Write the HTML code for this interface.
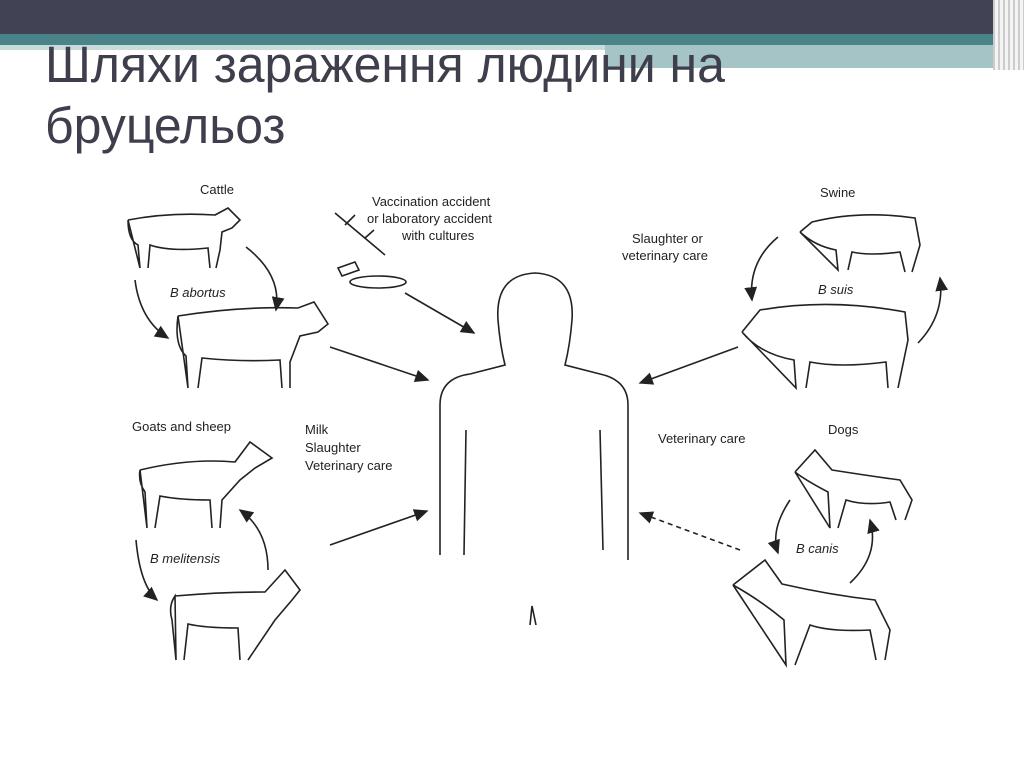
<!DOCTYPE html>
<html><head><meta charset="utf-8"><style>
body{margin:0;width:1024px;height:768px;background:#fff;overflow:hidden;position:relative;font-family:"Liberation Sans",sans-serif}
.t{position:absolute;left:45px;font-size:51px;color:#3e3e4c;transform:scaleX(0.98);transform-origin:left top;white-space:nowrap;line-height:60px}
</style></head><body>
<div style="position:absolute;left:0;top:0;width:1024px;height:34px;background:#414254"></div>
<div style="position:absolute;left:0;top:34px;width:1010px;height:11px;background:#4a8488"></div>
<div style="position:absolute;left:0;top:45px;width:605px;height:5px;background:#c9dcdc"></div>
<div style="position:absolute;left:605px;top:45px;width:405px;height:23px;background:#a5c4c5"></div>
<div style="position:absolute;left:993px;top:0;width:31px;height:70px;background:repeating-linear-gradient(90deg,#ccc 0 2px,#f4f4f4 2px 5px)"></div>
<div class="t" style="top:35px">Шляхи зараження людини на</div>
<div class="t" style="top:96px">бруцельоз</div>
<svg width="1024" height="768" style="position:absolute;left:0;top:0" font-family="Liberation Sans" font-size="13" fill="none" stroke="#222" stroke-width="1.6">
<defs><marker id="a" markerWidth="10" markerHeight="10" refX="8" refY="5" orient="auto"><path d="M0,1 L9,5 L0,9 z" fill="#222" stroke="none"/></marker></defs>
<g fill="#222" stroke="none">
<text x="200" y="194">Cattle</text>
<text x="372" y="206">Vaccination accident</text>
<text x="367" y="223">or laboratory accident</text>
<text x="402" y="240">with cultures</text>
<text x="820" y="197">Swine</text>
<text x="632" y="243">Slaughter or</text>
<text x="622" y="260">veterinary care</text>
<text x="170" y="297" font-style="italic">B abortus</text>
<text x="818" y="294" font-style="italic">B suis</text>
<text x="132" y="431">Goats and sheep</text>
<text x="305" y="434">Milk</text>
<text x="305" y="452">Slaughter</text>
<text x="305" y="470">Veterinary care</text>
<text x="658" y="443">Veterinary care</text>
<text x="828" y="434">Dogs</text>
<text x="150" y="563" font-style="italic">B melitensis</text>
<text x="796" y="553" font-style="italic">B canis</text>
</g>
<path d="M440,555 L440,405 Q440,378 470,374 L505,365 Q500,345 498,320 Q495,275 535,273 Q575,275 572,320 Q570,345 565,365 L600,374 Q628,380 628,405 L628,560 M600,430 L603,550 M466,430 L464,555 M530,625 L532,606 L536,625"/>
<path d="M330,347 L428,380" marker-end="url(#a)"/>
<path d="M405,293 L474,333" marker-end="url(#a)"/>
<path d="M738,347 L640,383" marker-end="url(#a)"/>
<path d="M330,545 L427,511" marker-end="url(#a)"/>
<path d="M740,550 L640,513" stroke-dasharray="5,4" marker-end="url(#a)"/>
<path d="M246,247 Q282,275 276,310" marker-end="url(#a)"/>
<path d="M135,280 Q140,320 168,338" marker-end="url(#a)"/>
<path d="M778,237 Q748,262 752,300" marker-end="url(#a)"/>
<path d="M918,343 Q945,315 940,278" marker-end="url(#a)"/>
<path d="M136,540 Q140,585 157,600" marker-end="url(#a)"/>
<path d="M268,570 Q268,530 240,510" marker-end="url(#a)"/>
<path d="M790,500 Q770,530 778,553" marker-end="url(#a)"/>
<path d="M850,583 Q880,555 870,520" marker-end="url(#a)"/>
<path d="M128,220 Q170,212 215,215 L228,208 L240,220 L232,228 L222,232 L220,250 L216,268 M210,268 L208,248 Q170,252 150,245 L148,268 M140,268 L138,245 Q128,240 128,220 Z"/>
<path d="M178,316 Q240,306 298,308 L314,302 L328,324 L318,332 L300,336 L290,362 L290,388 M282,388 L280,360 Q240,362 202,358 L198,388 M188,388 L186,356 Q174,345 178,316 Z"/>
<path d="M800,232 L812,222 Q860,210 915,218 L920,245 L912,272 M905,272 L900,252 Q870,256 852,252 L848,270 M838,270 L836,250 Q815,246 800,232 Z"/>
<path d="M742,332 L760,310 Q830,298 905,312 L908,340 L898,388 M888,388 L886,362 Q840,368 810,362 L806,388 M796,388 L794,360 Q760,354 742,332 Z"/>
<path d="M140,470 Q190,458 235,462 L250,442 L272,458 L255,468 L240,480 L222,500 L220,528 M212,528 L210,500 Q180,500 160,496 L155,528 M147,528 L145,492 Q138,482 140,470 Z"/>
<path d="M175,596 Q220,592 265,592 L285,570 L300,590 L292,600 L275,620 L248,660 M240,660 L238,628 Q205,628 188,624 L184,660 M176,660 L172,620 Q168,606 175,596 Z"/>
<path d="M795,472 L815,450 L832,470 Q870,476 900,480 L912,500 L905,520 M896,520 L890,502 Q865,506 846,500 L838,528 M830,528 L828,492 Q805,480 795,472 Z"/>
<path d="M733,585 L765,560 L782,584 Q830,595 875,600 L890,630 L885,660 M876,660 L870,630 Q830,632 810,625 L795,665 M786,665 L784,620 Q760,600 733,585 Z"/>
<path d="M335,213 L385,255 M345,225 L355,215 M365,238 L374,230"/>
<ellipse cx="378" cy="282" rx="28" ry="6"/>
<path d="M338,268 L355,262 L359,270 L342,276 Z"/>
</svg>
</body></html>
